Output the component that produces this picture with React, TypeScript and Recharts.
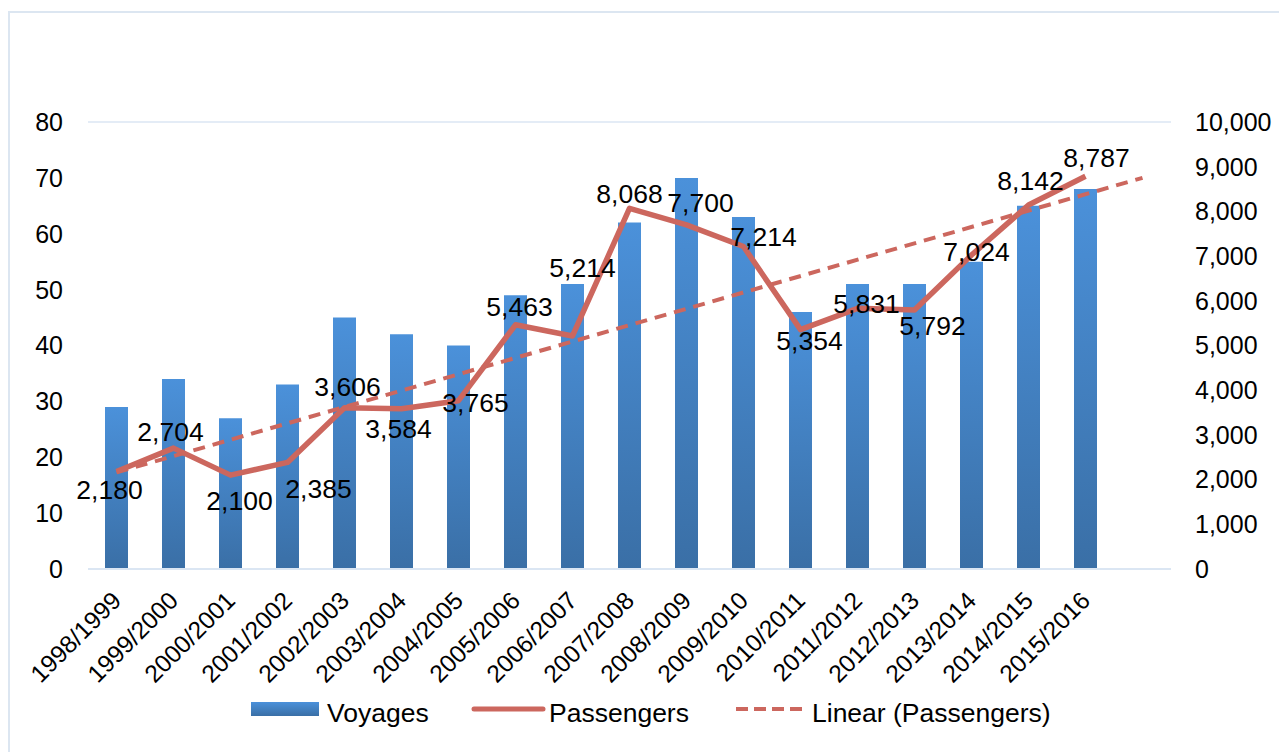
import React from "react";
import {
  ComposedChart,
  Bar,
  Line,
  XAxis,
  YAxis,
  CartesianGrid,
  LabelList,
} from "recharts";

// Seasons on the x axis (last slot is the empty forecast period of the trendline)
const seasons = [
  "1998/1999", "1999/2000", "2000/2001", "2001/2002", "2002/2003", "2003/2004",
  "2004/2005", "2005/2006", "2006/2007", "2007/2008", "2008/2009", "2009/2010",
  "2010/2011", "2011/2012", "2012/2013", "2013/2014", "2014/2015", "2015/2016",
];
const forecastSlots = [""];

// Voyages (left axis)
const voyages = [29, 34, 27, 33, 45, 42, 40, 49, 51, 62, 70, 63, 46, 51, 51, 55, 65, 68];

// Passengers (right axis)
const passengers = [
  2180, 2704, 2100, 2385, 3606, 3584, 3765, 5463, 5214,
  8068, 7700, 7214, 5354, 5831, 5792, 7024, 8142, 8787,
];

// Linear (Passengers) trendline ends
const trendStart = 2160;
const trendEnd = 8750;

const leftTicks = [0, 10, 20, 30, 40, 50, 60, 70, 80];
const rightTicks = [0, 1000, 2000, 3000, 4000, 5000, 6000, 7000, 8000, 9000, 10000];

// where each passengers label sits relative to its point (dx, dy)
const labelOffsets: [number, number][] = [
  [-7, 18], [-3, -16], [9, 26], [31, 26], [3, -21], [-3, 20], [17, 2], [4, -18], [10, -68],
  [0, -15], [14, -22], [20, -10], [9, 11], [9, -5], [18, 16], [5, -3], [2, -24], [11, -18],
];

const FONT = "'Liberation Sans', Arial, sans-serif";
const LINE_RED = "#cc675e";
const GRID = "#dbe6f3";

const allCats = [...seasons, ...forecastSlots];
const data = allCats.map((season, i) => ({
  season,
  voyages: i < voyages.length ? voyages[i] : null,
  passengers: i < passengers.length ? passengers[i] : null,
  trend: i === 0 ? trendStart : i === allCats.length - 1 ? trendEnd : null,
}));

const fmt = (v: number) => v.toLocaleString("en-US");

const SeasonTick = (props: any) => {
  const { x, y, payload } = props;
  if (!payload.value) return null;
  return (
    <text
      x={x}
      y={y}
      dy="0.35em"
      textAnchor="end"
      transform={`rotate(-45 ${x} ${y})`}
      fontSize={24.5}
      fontFamily={FONT}
      fill="#000"
    >
      {payload.value}
    </text>
  );
};

const PassengerLabel = (props: any) => {
  const { x, y, value, index } = props;
  if (value == null) return null;
  const [dx, dy] = labelOffsets[index] || [0, -16];
  return (
    <text
      x={x + dx}
      y={y + dy}
      dy="0.35em"
      textAnchor="middle"
      fontSize={26.5}
      fontFamily={FONT}
      fill="#000"
    >
      {fmt(value)}
    </text>
  );
};

export default function App() {
  return (
    <div style={{ position: "absolute", left: 0, top: 0, width: 1279, height: 752, background: "#fff", overflow: "hidden" }}>
      {/* outer chart frame */}
      <div
        style={{
          position: "absolute",
          left: 8,
          top: 11,
          width: 1300,
          height: 800,
          borderLeft: "2px solid #dce6f1",
          borderTop: "2px solid #dce6f1",
        }}
      />
      <div style={{ position: "absolute", left: 0, top: 0 }}>
        <ComposedChart
          width={1279}
          height={752}
          data={data}
          margin={{ top: 122, right: 0, bottom: 63, left: 0 }}
          barCategoryGap={0}
        >
          <defs>
            <linearGradient id="barGrad" x1="0" y1="0" x2="0" y2="1">
              <stop offset="0%" stopColor="#4b91da" />
              <stop offset="100%" stopColor="#3a6fa6" />
            </linearGradient>
          </defs>
          <CartesianGrid vertical={false} stroke={GRID} strokeWidth={1.5} />
          <XAxis
            dataKey="season"
            interval={0}
            tick={<SeasonTick />}
            tickLine={false}
            tickSize={0}
            tickMargin={27}
            axisLine={{ stroke: GRID, strokeWidth: 2 }}
            height={120}
          />
          <YAxis
            yAxisId="left"
            domain={[0, 80]}
            ticks={leftTicks}
            width={88}
            axisLine={false}
            tickLine={false}
            tickSize={0}
            tickMargin={25}
            tick={{ fontSize: 25, fontFamily: FONT, fill: "#000" }}
          />
          <YAxis
            yAxisId="right"
            orientation="right"
            domain={[0, 10000]}
            ticks={rightTicks}
            width={108}
            axisLine={false}
            tickLine={false}
            tickSize={0}
            tickMargin={24}
            tickFormatter={fmt}
            tick={{ fontSize: 25, fontFamily: FONT, fill: "#000", textAnchor: "start" }}
          />
          <Bar
            yAxisId="left"
            dataKey="voyages"
            fill="url(#barGrad)"
            barSize={23}
            isAnimationActive={false}
          />
          <Line
            yAxisId="right"
            dataKey="trend"
            stroke={LINE_RED}
            strokeWidth={4}
            strokeDasharray="12 8"
            dot={false}
            connectNulls
            isAnimationActive={false}
          />
          <Line
            yAxisId="right"
            dataKey="passengers"
            stroke={LINE_RED}
            strokeWidth={5.5}
            dot={false}
            strokeLinejoin="round"
            isAnimationActive={false}
          >
            <LabelList dataKey="passengers" content={<PassengerLabel />} />
          </Line>
        </ComposedChart>
      </div>

      {/* legend */}
      <svg style={{ position: "absolute", left: 0, top: 680 }} width={1279} height={60}>
        <defs>
          <linearGradient id="legendGrad" x1="0" y1="0" x2="0" y2="1">
            <stop offset="0%" stopColor="#4b91da" />
            <stop offset="100%" stopColor="#3a6fa6" />
          </linearGradient>
        </defs>
        <rect x={251} y={22} width={68} height={14} fill="url(#legendGrad)" />
        <text x={327} y={33} dy="0.35em" fontSize={26.5} fontFamily={FONT} fill="#000">Voyages</text>
        <line x1={474} y1={29} x2={543} y2={29} stroke={LINE_RED} strokeWidth={5} strokeLinecap="round" />
        <text x={549} y={33} dy="0.35em" fontSize={26.5} fontFamily={FONT} fill="#000">Passengers</text>
        <line x1={736} y1={29} x2={806} y2={29} stroke={LINE_RED} strokeWidth={4} strokeDasharray="12 6" />
        <text x={812} y={33} dy="0.35em" fontSize={26.5} fontFamily={FONT} fill="#000">Linear (Passengers)</text>
      </svg>
    </div>
  );
}
